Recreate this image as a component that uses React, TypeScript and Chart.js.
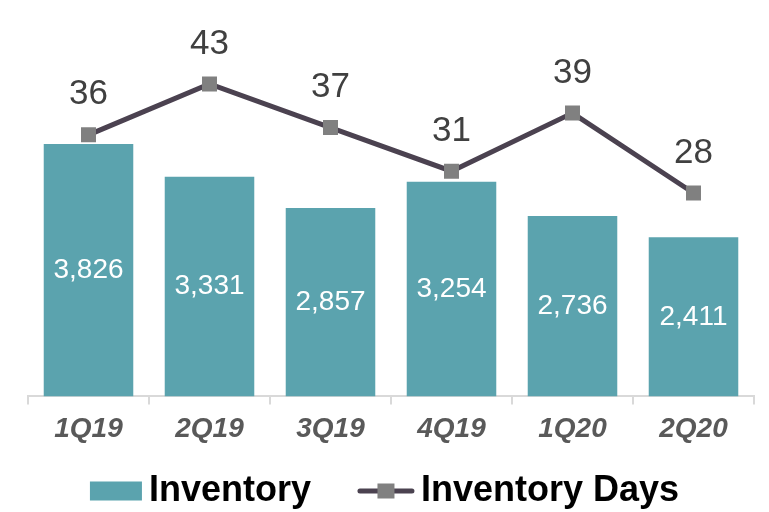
import React, { useEffect, useRef } from "react";
import { Chart, registerables } from "chart.js";

Chart.register(...registerables);

const categories = ["1Q19", "2Q19", "3Q19", "4Q19", "1Q20", "2Q20"];
const inventory = [3826, 3331, 2857, 3254, 2736, 2411];
const inventoryDays = [36, 43, 37, 31, 39, 28];

const FONT = '"Liberation Sans", Arial, sans-serif';
const BAR_COLOR = "#5BA3AE";
const LINE_COLOR = "#4B4250";
const MARKER_COLOR = "#808080";

const labelsPlugin = {
  id: "valueLabels",
  afterDatasetsDraw(chart: any) {
    const ctx = chart.ctx;
    ctx.save();
    ctx.textAlign = "center";
    ctx.textBaseline = "middle";
    const barMeta = chart.getDatasetMeta(0);
    ctx.font = `28px ${FONT}`;
    ctx.fillStyle = "#FFFFFF";
    barMeta.data.forEach((el: any, i: number) => {
      const v = chart.data.datasets[0].data[i];
      ctx.fillText(v.toLocaleString("en-US"), el.x, (el.y + el.base) / 2);
    });
    const lineMeta = chart.getDatasetMeta(1);
    ctx.font = `35px ${FONT}`;
    ctx.fillStyle = "#404040";
    lineMeta.data.forEach((el: any, i: number) => {
      const v = chart.data.datasets[1].data[i];
      ctx.fillText(String(v), el.x, el.y - 40);
    });
    ctx.restore();
  },
};

const legendPlugin = {
  id: "customLegend",
  afterDraw(chart: any) {
    const ctx = chart.ctx;
    ctx.save();
    ctx.font = `bold 36px ${FONT}`;
    ctx.textBaseline = "middle";
    ctx.textAlign = "left";
    const t1 = chart.data.datasets[0].label;
    const t2 = chart.data.datasets[1].label;
    const w1 = ctx.measureText(t1).width;
    const w2 = ctx.measureText(t2).width;
    const boxW = 52, lineW = 56, gap = 7, itemGap = 47;
    const total = boxW + gap + w1 + itemGap + lineW + gap + w2;
    let x = (chart.width - total) / 2;
    const y = 491;
    ctx.fillStyle = BAR_COLOR;
    ctx.fillRect(x, y - 9.5, boxW, 19);
    x += boxW + gap;
    ctx.fillStyle = "#000000";
    ctx.fillText(t1, x, y);
    x += w1 + itemGap;
    ctx.strokeStyle = LINE_COLOR;
    ctx.lineWidth = 5;
    ctx.lineCap = "round";
    ctx.beginPath();
    ctx.moveTo(x + 2, y);
    ctx.lineTo(x + lineW - 2, y);
    ctx.stroke();
    ctx.fillStyle = MARKER_COLOR;
    ctx.fillRect(x + lineW / 2 - 8.5, y - 7.5, 17, 15);
    x += lineW + gap;
    ctx.fillStyle = "#000000";
    ctx.fillText(t2, x, y);
    ctx.restore();
  },
};

export default function App() {
  const ref = useRef<HTMLCanvasElement | null>(null);
  useEffect(() => {
    if (!ref.current) return;
    const chart = new Chart(ref.current, {
      type: "bar",
      data: {
        labels: categories,
        datasets: [
          {
            type: "bar",
            label: "Inventory",
            data: inventory,
            backgroundColor: BAR_COLOR,
            yAxisID: "y",
            order: 1,
            categoryPercentage: 1,
            barPercentage: 0.74,
          },
          {
            type: "line",
            label: "Inventory Days",
            data: inventoryDays,
            borderColor: LINE_COLOR,
            borderWidth: 5,
            pointStyle: "rect",
            pointRadius: 10.6,
            pointBackgroundColor: MARKER_COLOR,
            pointBorderColor: MARKER_COLOR,
            pointBorderWidth: 0,
            yAxisID: "y1",
            order: 0,
            tension: 0,
          } as any,
        ],
      },
      options: {
        animation: false,
        responsive: true,
        maintainAspectRatio: false,
        layout: { padding: { left: 28, right: 15, top: 0, bottom: 58 } },
        plugins: {
          legend: { display: false },
          tooltip: { enabled: false },
        },
        scales: {
          x: {
            offset: true,
            grid: {
              display: true,
              offset: true,
              drawOnChartArea: false,
              drawTicks: true,
              tickLength: 8,
              color: "#D9D9D9",
              lineWidth: 2,
            },
            border: { display: true, color: "#D9D9D9", width: 2 },
            ticks: {
              padding: 8,
              color: "#595959",
              font: { family: FONT, size: 28, weight: "bold", style: "italic" },
            },
          },
          y: { display: false, min: 0, max: 5848 },
          y1: { display: false, min: 0, max: 53.1, position: "right" },
        },
      },
      plugins: [labelsPlugin, legendPlugin],
    });
    return () => chart.destroy();
  }, []);
  return (
    <div style={{ position: "fixed", left: 0, top: 0, width: 769, height: 512 }}>
      <canvas ref={ref} />
    </div>
  );
}
